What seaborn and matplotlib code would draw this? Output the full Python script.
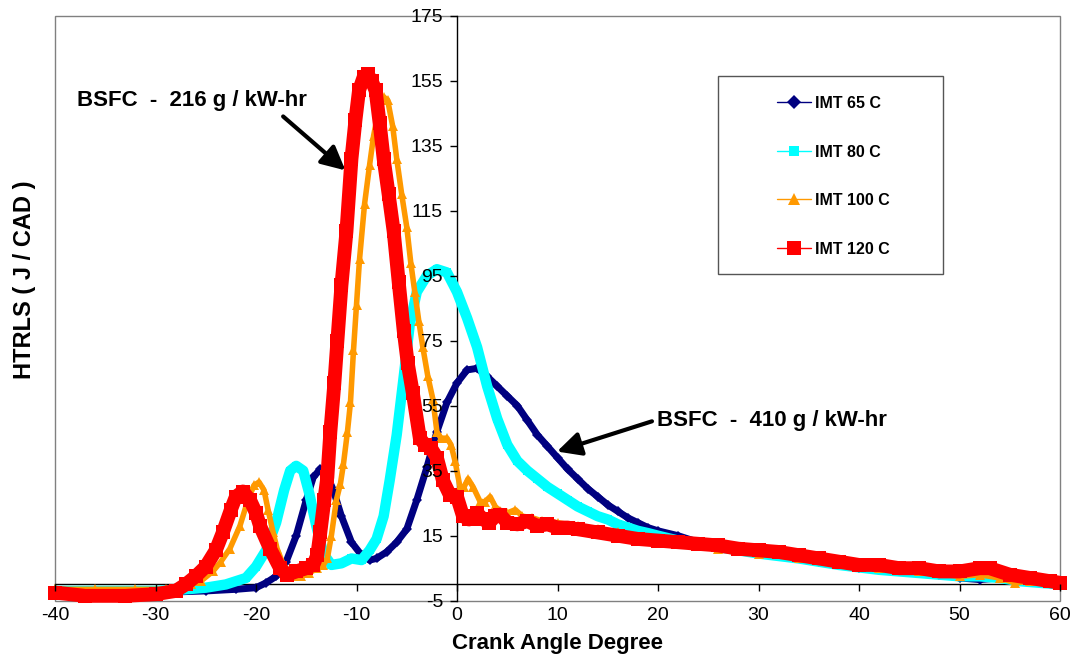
import numpy as np
import pandas as pd
import matplotlib
matplotlib.use('Agg')
import matplotlib.pyplot as plt
import seaborn as sns
from matplotlib.patches import Rectangle
from matplotlib.lines import Line2D

# ---------------- data ----------------
series_labels = ["IMT 65 C", "IMT 80 C", "IMT 100 C", "IMT 120 C"]

x_65 = [-40, -35, -30, -25, -22, -20, -19, -18, -17, -16, -15, -14.3, -13.6, -13, -12.3,
        -11.5, -10.5, -9.5, -8.7, -8, -7, -6, -5, -4, -3, -2, -1, 0, 1, 2, 3, 4, 5, 6,
        7, 8, 9, 10, 11, 12, 13, 14, 15, 16, 17, 18, 19, 20, 22, 24, 26, 28, 30, 33, 36,
        40, 44, 48, 50, 52, 54, 56, 58, 60]
y_65 = [-2.5, -2.5, -2.5, -2, -1.5, -1, 0.5, 2.5, 7, 15, 26, 33, 35.5, 34, 29,
        21, 13, 9, 7.5, 8, 10, 13, 17, 26, 36, 47, 56, 62, 66, 66.5, 64, 61, 58, 55,
        50.5, 46, 42.5, 39, 35.5, 32.5, 29.5, 27, 24.5, 22.5, 20.5, 19, 17.5, 16.5, 15, 13, 11.5, 10.5, 9.5, 8.5, 7,
        5, 4, 3, 2, 1.5, 2, 1.5, 0.5, 0]

x_80 = [-40, -35, -30, -27, -25, -23, -22, -21, -20, -19, -18, -17.2, -16.6, -16, -15.3,
        -14.7, -14, -13.3, -12.5, -11.5, -10.5, -9.5, -8.7, -8, -7.3, -6.7, -6, -5.3, -4.7,
        -4, -3, -2, -1, 0, 1, 2, 3, 4, 5, 6, 7, 8, 9, 10, 11, 12, 13, 14, 15, 16, 17, 18,
        19, 20, 22, 24, 26, 28, 30, 34, 38, 42, 46, 50, 52, 54, 56, 58, 60]
y_80 = [-2, -2, -2, -1.5, -1, 0, 1, 2, 5.5, 10.5, 19, 29, 35, 36.5, 35,
        28, 18, 9.5, 6, 6.5, 8, 7.5, 10.5, 14, 21, 32, 46, 64, 80,
        90, 95, 97, 96, 90, 82, 73, 61, 51, 43, 38, 35, 32.5, 30, 28, 26, 24, 22.5, 21, 20, 18.5, 17.5, 16.5,
        15.8, 15, 13.5, 12.5, 11.5, 10.5, 9.5, 8, 6, 4.5, 3.5, 2.5, 2.5, 2, 1, 0.5, 0]

x_100 = [-40, -36, -32, -29, -27.5, -26.5, -25.5, -24.3, -23.5, -22.6, -21.6, -20.8, -20.2,
         -19.7, -19.2, -18.8, -18.3, -17.9, -17.4, -16.9, -16.3, -15.5, -14.7, -13.9, -13.3,
         -12.9, -12.5, -12, -11.6, -11.3, -10.9, -10.6, -10.3, -10, -9.7, -9.2, -8.7, -8.3,
         -7.8, -7.3, -6.9, -6.4, -6, -5.5, -5, -4.6, -4.2, -3.8, -3.4, -2.9, -2.4, -2, -1.6,
         -1, -0.6, -0.2, 0.3, 0.7, 1.1, 1.6, 2.3, 2.8, 3.3, 3.8, 4.3, 5, 5.8, 6.5, 7.5, 8.5,
         10, 12, 14, 16, 18, 20, 22, 24, 26, 28, 30, 34, 38, 42, 46, 50, 52, 54, 55.5, 57, 60]
y_100 = [-1.5, -1.5, -1.5, -1.5, -1, 0, 1, 4, 7, 11, 18, 26, 30.5,
         31.5, 29, 23, 16, 11, 7, 4.5, 2.5, 2.5, 3.5, 5, 6,
         8, 15, 26, 31, 37, 47, 56, 72, 86, 100, 117, 129, 138,
         146, 150, 149, 141, 131, 120, 110, 99, 90, 81, 73, 64, 57, 47, 45,
         45, 43, 38, 30, 30, 32.5, 30, 25.5, 25.5, 27, 24, 22.5, 22, 23, 21, 20.5, 19.5,
         19, 18, 17, 16, 14.5, 13.5, 12.5, 12, 11, 10.5, 9.5, 8, 6.5, 5, 4, 2.5, 3, 2, 0.5, 1, 0]

x_120 = [-40, -37, -33, -30, -28, -27, -26, -25, -24, -23.3, -22.5, -22, -21.3, -20.6, -20,
         -19.6, -18.6, -17.6, -16.9, -16, -15, -14.3, -13.9, -13.6, -13.2, -12.9, -12.6,
         -12.2, -11.9, -11.5, -11, -10.5, -10.1, -9.75, -9.3, -8.9, -8.5, -8.1, -7.7, -7.3,
         -6.8, -6.3, -5.8, -5.3, -4.9, -4.4, -3.7, -3.2, -2.6, -2, -1.4, -0.7, 0, 0.6, 1.2,
         2, 2.6, 3.2, 3.8, 4.3, 5, 6, 7, 8, 9, 10, 11, 12, 14, 16, 18, 20, 22, 24, 26, 28,
         30, 32, 34, 36, 38, 40, 42, 44, 46, 48, 50, 52, 53, 55, 57, 59, 60]
y_120 = [-2.5, -3.5, -3.5, -3, -2, 0, 2.5, 5.5, 10.5, 16, 23, 27, 28.6, 26, 22,
         18, 11, 5, 3, 4, 5, 6, 9, 16, 26, 33, 47,
         62, 75, 92, 108.6, 131, 143, 152, 156, 157, 155, 152, 142, 131,
         120, 108.6, 93, 78, 68, 59, 45, 43, 42, 39, 32, 27.5, 27, 21, 20,
         22, 20, 19, 21, 21.5, 19, 18.5, 19.5, 18, 18.5, 17.5, 17.5, 17, 16, 15, 14, 13.5, 13, 12.5, 12, 11,
         10.5, 10, 9, 8, 7, 6, 6, 5, 5, 4, 4, 5, 5, 3, 2, 1, 0.5]

x_ticks = list(range(-40, 61, 10))
y_ticks = list(range(-5, 176, 20))

colors = ["#000080", "#00FFFF", "#FF9900", "#FF0000"]

# ---------------- style ----------------
sns.set_style("white")
plt.rcParams['font.family'] = ['Liberation Sans', 'DejaVu Sans']
plt.rcParams['text.color'] = 'black'
plt.rcParams['axes.labelcolor'] = 'black'
plt.rcParams['xtick.color'] = 'black'
plt.rcParams['ytick.color'] = 'black'
plt.rcParams['axes.unicode_minus'] = False

W, H = 1072, 655
fig = plt.figure(figsize=(W / 100, H / 100), dpi=100)
L, R, T, B = 55, 1060, 15.7, 600.7
ax = fig.add_axes([L / W, 1 - B / H, (R - L) / W, (B - T) / H])

xs = [x_65, x_80, x_100, x_120]
ys = [y_65, y_80, y_100, y_120]
markers = ["D", "s", "^", "s"]
lws = [5.0, 7.5, 4.0, 10.0]
mss = [5, 6, 7.5, 10]

for xv, yv, c, m, lw, ms in zip(xs, ys, colors, markers, lws, mss):
    sns.lineplot(x=xv, y=yv, ax=ax, color=c, lw=lw, marker=m, markersize=ms,
                 markeredgewidth=0, estimator=None, sort=False, legend=False,
                 clip_on=False, solid_joinstyle='round', solid_capstyle='butt')

ax.set_xlim(-40, 60)
ax.set_ylim(-5, 175)

# axes lines through the origin
for s in ["top", "right"]:
    ax.spines[s].set_visible(False)
ax.spines["left"].set_position(("data", 0))
ax.spines["bottom"].set_position(("data", 0))
for s in ["left", "bottom"]:
    ax.spines[s].set_color("black")
    ax.spines[s].set_linewidth(1.0)
    ax.spines[s].set_zorder(1)

# plot-area frame
ax.add_patch(Rectangle((0, 0), 1, 1, transform=ax.transAxes, fill=False,
                       edgecolor="#808080", lw=1.0, clip_on=False, zorder=0.5))

ax.set_xticks(x_ticks)
ax.set_yticks(y_ticks)
ax.tick_params(axis="x", direction="out", length=5, width=1, pad=11,
               labelsize=14, colors="black", bottom=True)
ax.tick_params(axis="y", direction="out", length=5, width=1, pad=5,
               labelsize=14, colors="black", left=True)
ax.set_axisbelow(False)

ax.set_xlabel("Crank Angle Degree", fontsize=16, fontweight="bold")
ax.xaxis.set_label_coords(0.5, -0.055)
ax.set_ylabel("HTRLS ( J / CAD )", fontsize=17, fontweight="bold")
ax.yaxis.set_label_coords(-0.0308, 0.548)
ax.yaxis.label.set_va("center")

# annotations
ax.text(-37.8, 149, "BSFC  -  216 g / kW-hr", ha="left", va="center",
        fontsize=16, fontweight="bold")
ax.annotate("", xy=(-11.1, 127.4), xytext=(-17.3, 144),
            arrowprops=dict(arrowstyle="-|>,head_length=0.9,head_width=0.45",
                            lw=3, color="black", shrinkA=0, shrinkB=0,
                            mutation_scale=16))
ax.text(19.9, 50.5, "BSFC  -  410 g / kW-hr", ha="left", va="center",
        fontsize=16, fontweight="bold")
ax.annotate("", xy=(9.95, 40.9), xytext=(19.4, 50.2),
            arrowprops=dict(arrowstyle="-|>,head_length=0.9,head_width=0.45",
                            lw=3, color="black", shrinkA=0, shrinkB=0,
                            mutation_scale=16))

# legend
handles = [Line2D([0], [0], color=c, lw=1, marker=m, markersize=s, markeredgewidth=0)
           for c, m, s in zip(colors, ["D", "s", "^", "s"], [7, 7, 8, 10])]
ax.legend(handles, series_labels, loc="upper left",
          bbox_to_anchor=(777 / W, 1 - 96 / H), bbox_transform=fig.transFigure,
          frameon=False, borderpad=0, borderaxespad=0, labelspacing=2.1,
          handlelength=2.1, handletextpad=0.3, prop={"weight": "bold", "size": 11.5})
fig.add_artist(Rectangle((718 / W, 1 - 274 / H), 225 / W, 198 / H,
                         transform=fig.transFigure, fill=False,
                         edgecolor="#555555", lw=1.0))

fig.savefig("out.png", dpi=100)
